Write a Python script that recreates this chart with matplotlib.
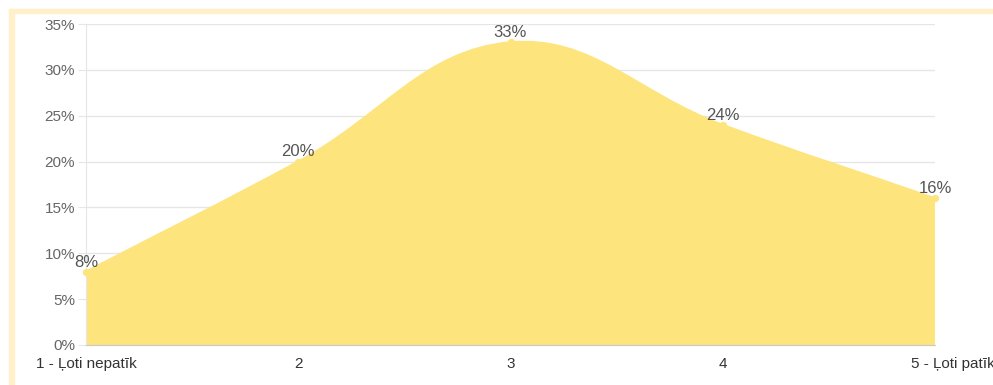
import numpy as np
import matplotlib
matplotlib.use('Agg')
import matplotlib.pyplot as plt
import matplotlib.transforms as mtransforms
from matplotlib.path import Path
from matplotlib.patches import PathPatch, Rectangle

plt.rcParams['font.family'] = ['Liberation Sans', 'DejaVu Sans']

categories = ['1 - Ļoti nepatīk', '2', '3', '4', '5 - Ļoti patīk']
values = [8, 20, 33, 24, 16]
yticks = [0, 5, 10, 15, 20, 25, 30, 35]

fill_color = '#FDE47D'
grid_color = '#E6E6E6'
text_color = '#666666'

W, H = 993, 385
fig = plt.figure(figsize=(W / 100, H / 100), dpi=100)

# light yellow frame on the left and top
fig.patches.append(Rectangle((9 / W, 0), 5 / W, (H - 9) / H, transform=fig.transFigure,
                             color='#FFF0CA', zorder=0))
fig.patches.append(Rectangle((9 / W, (H - 13) / H), (W - 9) / W, 4 / H, transform=fig.transFigure,
                             color='#FFF0CA', zorder=0))

ax = fig.add_axes([86 / W, 40 / H, (935 - 86) / W, (345 - 24) / H])
x = np.arange(len(categories))
ax.set_xlim(0, len(categories) - 1)
ax.set_ylim(0, 35)

# Chart.js style spline (tension 0.4) computed in pixel space
pts = ax.transData.transform(np.column_stack([x, values]))
t = 0.4
cps = []
n = len(pts)
for i in range(n):
    prev = pts[i - 1] if i > 0 else pts[i]
    cur = pts[i]
    nxt = pts[i + 1] if i < n - 1 else pts[i]
    d01 = np.hypot(*(cur - prev))
    d12 = np.hypot(*(nxt - cur))
    tot = d01 + d12 if d01 + d12 > 0 else 1
    fa = t * d01 / tot
    fb = t * d12 / tot
    cps.append((cur - fa * (nxt - prev), cur + fb * (nxt - prev)))

verts = [pts[0]]
codes = [Path.MOVETO]
for i in range(1, n):
    verts += [cps[i - 1][1], cps[i][0], pts[i]]
    codes += [Path.CURVE4] * 3
inv = ax.transData.inverted()
verts_data = list(inv.transform(np.array(verts)))
line_verts = verts_data[:]
verts_data += [(x[-1], 0), (x[0], 0), (x[0], values[0])]
codes_fill = codes + [Path.LINETO, Path.LINETO, Path.CLOSEPOLY]
ax.add_patch(PathPatch(Path(verts_data, codes_fill), facecolor=fill_color,
                       edgecolor='none', zorder=2))
ax.add_patch(PathPatch(Path(line_verts, codes), facecolor='none',
                       edgecolor=fill_color, lw=1.5, zorder=3))

ax.scatter(x, values, s=28, color=fill_color, zorder=4, clip_on=False, linewidths=0)
for xi, v in zip(x, values):
    ax.annotate(f'{v}%', (xi, v), xytext=(0, 1.5), textcoords='offset points',
                ha='center', va='bottom', fontsize=12, color='#555555', zorder=5)

ax.set_yticks(yticks)
ax.set_yticklabels([f'{v}%' for v in yticks])
ax.set_xticks(x)
ax.set_xticklabels(categories)
ax.grid(axis='y', color=grid_color, lw=1, zorder=1)
ax.tick_params(axis='y', length=6, color=grid_color, labelsize=11, labelcolor=text_color, pad=2)
ax.tick_params(axis='x', length=0, labelsize=11, labelcolor='#333333', pad=8.5)
for s in ['top', 'right']:
    ax.spines[s].set_visible(False)
ax.spines['left'].set_color(grid_color)
ax.spines['bottom'].set_color('#C8C8C8')
ax.spines['bottom'].set_zorder(3)

# last category label sits a little to the right, running off the edge
last = ax.get_xticklabels()[-1]
last.set_transform(last.get_transform() + mtransforms.ScaledTranslation(18 / 100, 0, fig.dpi_scale_trans))

fig.savefig('out.png', dpi=100)
